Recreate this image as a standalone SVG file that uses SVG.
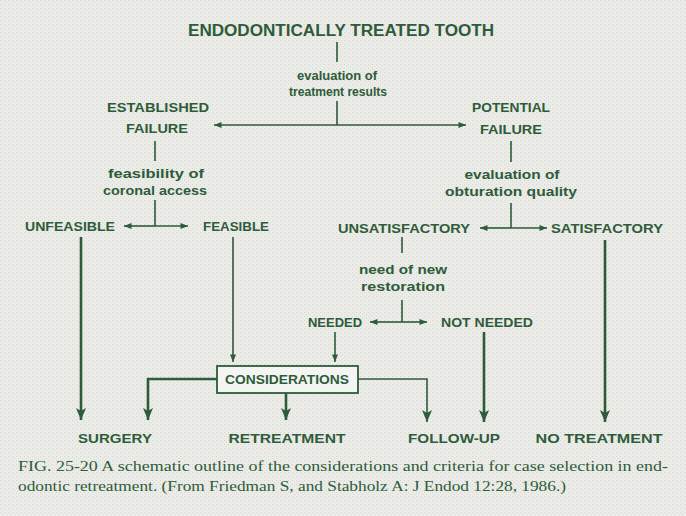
<svg xmlns="http://www.w3.org/2000/svg" width="686" height="516" viewBox="0 0 686 516">
<defs>
<style>
.cap{font-family:"Liberation Sans",Arial,sans-serif;font-weight:bold;font-size:13px;fill:#2e5b3a;text-anchor:middle}
.title{font-family:"Liberation Sans",Arial,sans-serif;font-weight:bold;font-size:16px;fill:#2e5b3a;text-anchor:middle}
.low{font-family:"Liberation Sans",Arial,sans-serif;font-weight:bold;font-size:12.5px;fill:#2e5b3a;text-anchor:middle}
.capt{font-family:"Liberation Serif","Times New Roman",serif;font-size:15px;fill:#2e5b3a}
.ln{stroke:#2e5b3a;stroke-width:1.6;fill:none}
.thick{stroke:#2e5b3a;stroke-width:2.6;fill:none}
</style>
<marker id="a" viewBox="0 0 10 8" refX="10" refY="4" markerWidth="9" markerHeight="6" markerUnits="userSpaceOnUse" orient="auto-start-reverse">
<path d="M0,0 L10,4 L0,8 z" fill="#2e5b3a"/>
</marker>
<marker id="b" viewBox="0 0 12 10" refX="12" refY="5" markerWidth="13" markerHeight="10" markerUnits="userSpaceOnUse" orient="auto">
<path d="M0,0 L12,5 L0,10 L3,5 z" fill="#2e5b3a"/>
</marker>
<pattern id="dots" width="4" height="4" patternUnits="userSpaceOnUse">
<rect width="4" height="4" fill="#ebece8"/>
<rect x="0" y="0" width="1" height="1" fill="#d3d5cf"/>
<rect x="2" y="2" width="1" height="1" fill="#d9dbd6"/>
</pattern>
</defs>
<rect width="686" height="516" fill="url(#dots)"/>

<g id="connectors">
<line class="ln" x1="337" y1="42" x2="337" y2="62"/>
<line class="ln" x1="337" y1="101" x2="337" y2="125"/>
<line class="ln" x1="337" y1="125" x2="214" y2="125" marker-end="url(#a)"/>
<line class="ln" x1="337" y1="125" x2="466" y2="125" marker-end="url(#a)"/>

<line class="ln" x1="155" y1="141" x2="155" y2="161"/>
<line class="ln" x1="155" y1="200" x2="155" y2="226"/>
<line class="ln" x1="155" y1="226" x2="124" y2="226" marker-end="url(#a)"/>
<line class="ln" x1="155" y1="226" x2="188" y2="226" marker-end="url(#a)"/>

<line class="ln" x1="511" y1="141" x2="511" y2="162"/>
<line class="ln" x1="511" y1="203" x2="511" y2="228"/>
<line class="ln" x1="511" y1="228" x2="480" y2="228" marker-end="url(#a)"/>
<line class="ln" x1="511" y1="228" x2="547" y2="228" marker-end="url(#a)"/>

<line class="ln" x1="402" y1="237" x2="402" y2="253"/>
<line class="ln" x1="402" y1="300" x2="402" y2="322"/>
<line class="ln" x1="402" y1="322" x2="370" y2="322" marker-end="url(#a)"/>
<line class="ln" x1="402" y1="322" x2="427" y2="322" marker-end="url(#a)"/>

<line class="ln" x1="335" y1="332" x2="335" y2="362" marker-end="url(#a)"/>
<line class="ln" x1="233" y1="237" x2="233" y2="362" marker-end="url(#a)"/>

<line class="thick" x1="81" y1="237" x2="81" y2="420" marker-end="url(#b)"/>
<polyline class="thick" points="217,379 148,379 148,420" marker-end="url(#b)"/>
<line class="thick" x1="286" y1="393" x2="286" y2="420" marker-end="url(#b)"/>
<polyline class="ln" points="358,379 427,379 427,422" marker-end="url(#b)"/>
<line class="thick" x1="484" y1="332" x2="484" y2="422" marker-end="url(#b)"/>
<line class="thick" x1="605" y1="240" x2="605" y2="422" marker-end="url(#b)"/>
</g>

<g id="n-tooth"><text class="title" x="341" y="36" textLength="306" lengthAdjust="spacingAndGlyphs">ENDODONTICALLY TREATED TOOTH</text></g>
<g id="l-eval1"><text class="low" x="337" y="80" textLength="80" lengthAdjust="spacingAndGlyphs">evaluation of</text><text class="low" x="338" y="96" textLength="98" lengthAdjust="spacingAndGlyphs">treatment results</text></g>
<g id="n-established"><text class="cap" x="158" y="112" textLength="102" lengthAdjust="spacingAndGlyphs">ESTABLISHED</text><text class="cap" x="157" y="133" textLength="62" lengthAdjust="spacingAndGlyphs">FAILURE</text></g>
<g id="n-potential"><text class="cap" x="511" y="112" textLength="78" lengthAdjust="spacingAndGlyphs">POTENTIAL</text><text class="cap" x="511" y="134" textLength="62" lengthAdjust="spacingAndGlyphs">FAILURE</text></g>
<g id="l-feas"><text class="low" x="156" y="178" textLength="96" lengthAdjust="spacingAndGlyphs">feasibility of</text><text class="low" x="155" y="195" textLength="104" lengthAdjust="spacingAndGlyphs">coronal access</text></g>
<g id="l-obt"><text class="low" x="512" y="179" textLength="95" lengthAdjust="spacingAndGlyphs">evaluation of</text><text class="low" x="511" y="196" textLength="132" lengthAdjust="spacingAndGlyphs">obturation quality</text></g>
<g id="n-unfeasible"><text class="cap" x="70" y="231" textLength="90" lengthAdjust="spacingAndGlyphs">UNFEASIBLE</text></g>
<g id="n-feasible"><text class="cap" x="236" y="231" textLength="66" lengthAdjust="spacingAndGlyphs">FEASIBLE</text></g>
<g id="n-unsat"><text class="cap" x="404" y="233" textLength="132" lengthAdjust="spacingAndGlyphs">UNSATISFACTORY</text></g>
<g id="n-sat"><text class="cap" x="607" y="233" textLength="112" lengthAdjust="spacingAndGlyphs">SATISFACTORY</text></g>
<g id="l-need"><text class="low" x="403" y="274" textLength="88" lengthAdjust="spacingAndGlyphs">need of new</text><text class="low" x="403" y="291" textLength="84" lengthAdjust="spacingAndGlyphs">restoration</text></g>
<g id="n-needed"><text class="cap" x="335" y="327" textLength="54" lengthAdjust="spacingAndGlyphs">NEEDED</text></g>
<g id="n-notneeded"><text class="cap" x="487" y="327" textLength="92" lengthAdjust="spacingAndGlyphs">NOT NEEDED</text></g>
<g id="n-considerations"><rect x="217" y="366" width="141" height="27" fill="#f4f5f2" stroke="#2e5b3a" stroke-width="1.8"/><text class="cap" x="287" y="384" textLength="124" lengthAdjust="spacingAndGlyphs">CONSIDERATIONS</text></g>
<g id="n-surgery"><text class="cap" x="115" y="443" textLength="74" lengthAdjust="spacingAndGlyphs">SURGERY</text></g>
<g id="n-retreatment"><text class="cap" x="287" y="443" textLength="117" lengthAdjust="spacingAndGlyphs">RETREATMENT</text></g>
<g id="n-followup"><text class="cap" x="454" y="443" textLength="92" lengthAdjust="spacingAndGlyphs">FOLLOW-UP</text></g>
<g id="n-notreatment"><text class="cap" x="599" y="443" textLength="127" lengthAdjust="spacingAndGlyphs">NO TREATMENT</text></g>
<g id="caption">
<text class="capt" x="18" y="471" textLength="650" lengthAdjust="spacingAndGlyphs">FIG. 25-20 A schematic outline of the considerations and criteria for case selection in end-</text>
<text class="capt" x="18" y="491" textLength="548" lengthAdjust="spacingAndGlyphs">odontic retreatment. (From Friedman S, and Stabholz A: J Endod 12:28, 1986.)</text>
</g>
</svg>
